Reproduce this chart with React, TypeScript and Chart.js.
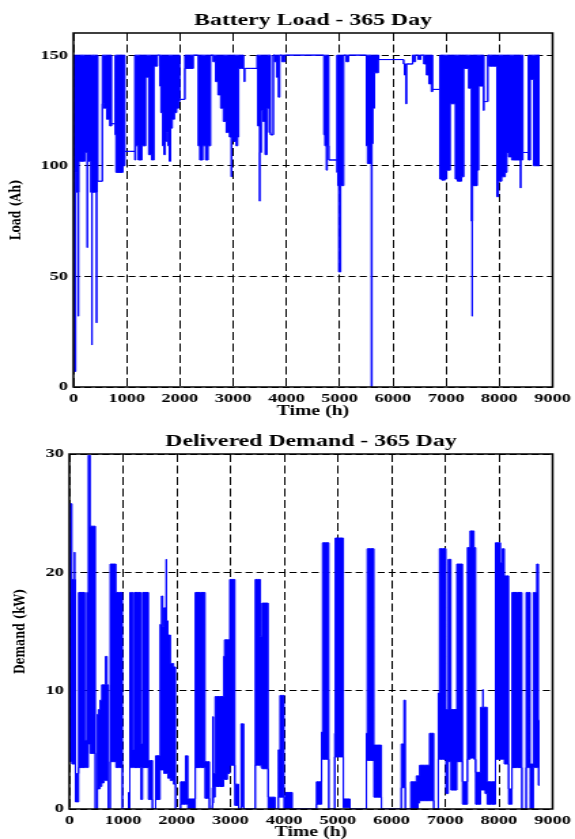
import React, { useEffect, useRef } from 'react';
import { Chart, registerables } from 'chart.js';

Chart.register(...registerables);

const BLUE = 'rgb(0,0,255)';
const SERIF = '"Liberation Serif", "Times New Roman", serif';
const WIDE_SERIF = '"DejaVu Serif", serif';
// the figure is drawn on a narrower canvas and shown stretched to the page width
const CANVAS_W = 423;
const PAGE_W = 575;

// ---- axis ticks ----
const timeTicks = [0, 1000, 2000, 3000, 4000, 5000, 6000, 7000, 8000, 9000];
const loadTicks = [0, 50, 100, 150];
const demandTicks = [0, 10, 20, 30];

// ---- Battery load (Ah): time, upper and lower envelope of the hourly trace ----
const loadTime = [
  0, 6, 14, 40, 46, 60, 64, 90, 94, 98,
  110, 190, 240, 256, 260, 265, 290, 322, 326, 345,
  348, 352, 430, 435, 440, 455, 465, 540, 545, 600,
  650, 715, 720, 780, 785, 811, 925, 935, 965, 970,
  1150, 1155, 1185, 1250, 1325, 1390, 1435, 1500, 1530, 1575,
  1580, 1620, 1625, 1660, 1690, 1710, 1740, 1765, 1790, 1810,
  1840, 1875, 1920, 1960, 1995, 2000, 2090, 2095, 2250, 2255,
  2340, 2345, 2400, 2460, 2500, 2560, 2595, 2650, 2690, 2740,
  2790, 2840, 2900, 2960, 2968, 2975, 3040, 3070, 3100, 3110,
  3195, 3200, 3215, 3225, 3450, 3455, 3465, 3490, 3500, 3505,
  3520, 3540, 3580, 3620, 3650, 3700, 3705, 3750, 3755, 3800,
  3830, 3870, 3880, 3950, 4000, 4700, 4705, 4740, 4760, 4775,
  4795, 4800, 4945, 4950, 4980, 4985, 5018, 5022, 5075, 5080,
  5165, 5170, 5500, 5505, 5540, 5590, 5598, 5606, 5612, 5640,
  5670, 5725, 5730, 5735, 6200, 6205, 6230, 6255, 6265, 6370,
  6375, 6400, 6450, 6500, 6550, 6610, 6650, 6700, 6745, 6750,
  6880, 6885, 6950, 7010, 7015, 7075, 7080, 7170, 7175, 7250,
  7330, 7335, 7420, 7425, 7470, 7475, 7485, 7490, 7495, 7500,
  7560, 7610, 7615, 7700, 7705, 7720, 7780, 7785, 7820, 7950,
  7955, 8010, 8080, 8140, 8145, 8200, 8260, 8390, 8400, 8410,
  8440, 8445, 8540, 8545, 8580, 8585, 8640, 8645, 8760,
];
const loadUpper = [
  150, 150, 150, 150, 150, 150, 150, 150, 150, 150,
  150, 150, 150, 150, 150, 150, 150, 150, 150, 150,
  150, 150, 150, 150, 150, 150, 93, 93, 150, 150,
  150, 150, 119, 119, 150, 150, 150, 150, 150, 106.5,
  106.5, 150, 150, 150, 150, 150, 150, 150, 150, 150,
  150, 150, 150, 150, 150, 150, 150, 150, 150, 150,
  150, 150, 150, 150, 150, 130, 130, 150, 150, 150,
  150, 150, 150, 150, 150, 150, 150, 150, 150, 150,
  150, 150, 150, 150, 150, 150, 150, 150, 150, 150,
  150, 144, 144, 144, 144, 150, 150, 150, 150, 150,
  150, 150, 150, 150, 150, 150, 114, 114, 150, 150,
  150, 150, 150, 150, 150, 150, 150, 150, 150, 150,
  150, 102.6, 102.6, 150, 150, 150, 150, 150, 150, 150,
  150, 150, 150, 150, 150, 150, 150, 150, 150, 150,
  150, 150, 150, 148, 148, 146, 146, 146, 146, 146,
  150, 150, 150, 150, 150, 150, 150, 150, 150, 134.5,
  134.5, 150, 150, 150, 150, 150, 150, 150, 150, 150,
  150, 150, 150, 150, 150, 150, 150, 150, 150, 150,
  150, 150, 150, 150, 150, 129, 129, 150, 150, 150,
  150, 150, 150, 150, 150, 150, 150, 150, 150, 150,
  150, 106, 106, 150, 150, 150, 150, 150, 150,
];
const loadLower = [
  150, 84, 7, 7, 97, 97, 88, 88, 32, 88,
  102, 102, 106, 106, 63, 106, 102, 102, 88, 88,
  19, 88, 88, 29, 88, 93, 93, 93, 128, 126,
  121, 118, 119, 119, 114, 97, 97, 100, 100, 106.5,
  106.5, 102.6, 109, 102.6, 109, 140, 105, 102.6, 145, 145,
  150, 150, 136, 124, 109, 105, 111, 115, 109, 102,
  117, 121, 124, 126, 129, 130, 130, 144, 144, 150,
  150, 109, 102.6, 109, 102.6, 109, 150, 147, 138, 132,
  126, 120, 115, 113, 95, 112, 111, 109, 113, 144,
  144, 144, 138, 144, 144, 150, 118, 118, 84, 106,
  106, 125, 120, 105, 126, 115, 114, 114, 150, 147,
  140, 131, 150, 147, 150, 150, 114, 109, 98, 109,
  109, 102.6, 102.6, 97, 91, 52, 52, 91, 91, 150,
  147, 150, 150, 109, 101, 101, 0, 0, 110, 126,
  142, 142, 150, 148, 148, 146, 141, 128, 146, 146,
  150, 147, 150, 148, 150, 146, 141, 137, 133.5, 134.5,
  134.5, 94, 93.5, 94, 98, 98, 128, 128, 94, 93,
  95, 144, 144, 135, 135, 75, 75, 32, 75, 91,
  91, 98, 136, 136, 125, 129, 129, 150, 145, 145,
  86, 93, 95, 97, 106, 104, 102.6, 102.6, 90, 102.6,
  102.6, 106, 106, 102.6, 102.6, 139, 139, 100, 100,
];

// ---- Delivered demand (kW): time, upper and lower envelope ----
const demandTime = [
  0, 4, 45, 50, 95, 98, 104, 111, 115, 170,
  174, 285, 288, 322, 326, 350, 355, 385, 390, 480,
  488, 520, 524, 557, 588, 619, 668, 680, 700, 705,
  725, 730, 758, 762, 865, 870, 985, 990, 1100, 1103,
  1125, 1128, 1180, 1185, 1207, 1210, 1330, 1335, 1362, 1365,
  1470, 1475, 1545, 1550, 1605, 1610, 1680, 1700, 1733, 1746,
  1777, 1800, 1806, 1812, 1857, 1907, 1975, 1980, 2070, 2074,
  2160, 2167, 2204, 2210, 2340, 2350, 2525, 2530, 2605, 2612,
  2660, 2665, 2678, 2690, 2740, 2864, 2880, 2900, 2985, 2990,
  3080, 3085, 3150, 3155, 3195, 3200, 3245, 3250, 3460, 3465,
  3555, 3560, 3585, 3590, 3700, 3705, 3830, 3835, 3890, 3895,
  3920, 3925, 3995, 4000, 4050, 4150, 4155, 4600, 4605, 4695,
  4700, 4730, 4830, 4835, 4940, 4945, 4960, 5100, 5105, 5225,
  5230, 5530, 5535, 5560, 5670, 5675, 5810, 5815, 6180, 6185,
  6230, 6234, 6255, 6260, 6355, 6360, 6460, 6465, 6520, 6525,
  6705, 6710, 6785, 6790, 6870, 6873, 6892, 6895, 7012, 7015,
  7055, 7058, 7105, 7108, 7215, 7218, 7320, 7323, 7412, 7415,
  7462, 7465, 7535, 7538, 7565, 7568, 7658, 7660, 7700, 7704,
  7708, 7780, 7783, 7935, 7938, 8028, 8030, 8064, 8066, 8100,
  8103, 8180, 8183, 8242, 8245, 8428, 8430, 8506, 8509, 8580,
  8583, 8640, 8644, 8704, 8706, 8735, 8737, 8760,
];
const demandUpper = [
  5, 25.8, 25.8, 19.4, 19.4, 21.7, 19.4, 19.4, 3, 3,
  18.3, 18.3, 5.8, 5.8, 18.3, 18.3, 29.9, 29.9, 23.9, 23.9,
  0, 0, 8, 8.4, 9.2, 10.5, 10.5, 12.9, 12.9, 10.5,
  10.5, 0, 0, 20.7, 20.7, 18.3, 18.3, 0, 0, 1.4,
  1.4, 18.3, 18.3, 5, 5, 18.3, 18.3, 5.5, 5.5, 18.3,
  18.3, 4.1, 4.1, 0, 0, 4.5, 4.5, 15.6, 18, 15.4,
  17, 17, 21.1, 15.9, 14.7, 12.3, 12, 0, 0, 2.3,
  2.3, 4.5, 4.5, 0.85, 0.85, 18.3, 18.3, 4, 4, 0,
  0, 1.8, 7.8, 3, 9.5, 9.5, 12.9, 14.3, 14.3, 19.4,
  19.4, 2.1, 2.1, 0, 0, 7.2, 7.2, 0, 0, 19.4,
  19.4, 14.6, 14.6, 17.4, 17.4, 1, 1, 0, 0, 5,
  5, 9.6, 9.6, 1, 1.4, 1.4, 0, 0, 2.3, 2.3,
  6.5, 22.5, 22.5, 0, 0, 6.4, 22.9, 22.9, 0.85, 0.85,
  0, 0, 6.4, 22, 22, 5.4, 5.4, 0, 0, 5.5,
  5.5, 9.2, 9.2, 0, 0, 2.3, 2.3, 2.8, 2.8, 3.7,
  3.7, 6.4, 6.4, 0, 0, 9.8, 9.8, 22, 22, 8.4,
  8.4, 21.1, 21.1, 8.4, 8.4, 20.7, 20.7, 2.3, 2.3, 22.1,
  22.1, 23.5, 23.5, 22.1, 22.1, 3.1, 3.1, 8.6, 8.6, 10.1,
  8.6, 8.6, 2.3, 2.3, 22.5, 22.5, 20.8, 20.8, 22, 22,
  19.7, 19.7, 1.7, 1.7, 18.3, 18.3, 0, 0, 18.3, 18.3,
  3.8, 3.8, 18.3, 18.3, 20.7, 20.7, 7.5, 7.5,
];
const demandLower = [
  5, 4, 4, 3.8, 3.8, 3.8, 3.8, 3.8, 0.6, 0.6,
  3.5, 3.5, 3.5, 3.5, 3.5, 3.5, 5.5, 5.5, 4.7, 4.7,
  0, 0, 1.7, 1.7, 1.9, 2.2, 2.4, 2.4, 2.4, 2.4,
  2.4, 0, 0, 4, 4, 3.5, 3.5, 0, 0, 0,
  0, 3.5, 3.5, 3.5, 3.5, 3.5, 3.5, 0.8, 0.8, 3.5,
  3.5, 0.8, 0.8, 0, 0, 0.8, 0.8, 3.3, 3.3, 3.3,
  3, 3, 3, 3, 2.6, 2.4, 2.1, 0, 0, 0.4,
  0.4, 0.4, 0.4, 0, 0, 3.5, 3.5, 0.9, 0.9, 0,
  0, 0.3, 0.5, 1, 1.9, 1.9, 2.5, 2.5, 3, 3.7,
  3.7, 0.3, 0.3, 0, 0, 0.2, 0.2, 0, 0, 3.7,
  3.7, 3.7, 3.5, 3.4, 3.4, 0, 0, 0, 0, 1,
  1, 1, 1, 0, 0, 0, 0, 0, 0.4, 0.4,
  4.2, 4.2, 4.2, 0, 0, 4.4, 4.4, 4.4, 0.1, 0.1,
  0, 0, 4.1, 4.1, 4.1, 1, 1, 0, 0, 1.8,
  1.8, 1.8, 1.8, 0, 0, 0, 0, 0, 0.5, 0.7,
  0.7, 0.7, 0.7, 0, 0, 4.2, 4.2, 4.2, 4.2, 1.3,
  1.3, 4, 4, 1.6, 1.6, 4, 4, 0.4, 0.4, 4.2,
  4.2, 4.3, 4.3, 4.2, 4.2, 0.4, 0.4, 1.6, 1.6, 1.6,
  1.6, 1.3, 0.4, 0.4, 4.2, 4.2, 4.2, 4.2, 4.2, 4.2,
  3.8, 3.8, 0.4, 0.4, 3.5, 3.5, 0, 0, 3.5, 3.5,
  0, 0, 3.5, 3.5, 3.5, 3.5, 2, 2,
];

const frameAndTitle = {
  id: 'frameAndTitle',
  afterDraw(chart: any, _args: any, opts: any) {
    const { ctx, chartArea: a } = chart;
    ctx.save();
    ctx.setLineDash([]);
    ctx.strokeStyle = '#000';
    ctx.lineWidth = 1.5;
    ctx.strokeRect(a.left, a.top, a.right - a.left, a.bottom - a.top);
    ctx.fillStyle = '#000';
    ctx.font = `bold 17.5px ${SERIF}`;
    ctx.textAlign = 'center';
    ctx.textBaseline = 'middle';
    ctx.fillText(opts.text, (a.left + a.right) / 2, opts.y);
    ctx.restore();
  },
};

function toPoints(xs: number[], ys: number[]) {
  return xs.map((x, i) => ({ x, y: ys[i] }));
}

interface PanelProps {
  top: number;
  height: number;
  title: string;
  titleY: number;
  yLabel: string;
  yMax: number;
  yTicks: number[];
  times: number[];
  upper: number[];
  lower: number[];
  pad: { top: number; right: number };
  yWidth: number;
  xHeight: number;
  yTitlePad: number;
  xTitlePad: number;
}

function Panel(p: PanelProps) {
  const ref = useRef<HTMLCanvasElement | null>(null);
  useEffect(() => {
    if (!ref.current) return;
    const tickFont = { family: SERIF, size: 13.5, weight: 'bold' as const };
    const chart = new Chart(ref.current, {
      type: 'line',
      data: {
        datasets: [
          {
            data: toPoints(p.times, p.upper),
            borderColor: BLUE,
            backgroundColor: BLUE,
            borderWidth: 1,
            pointRadius: 0,
            stepped: 'middle',
            fill: '+1',
          },
          {
            data: toPoints(p.times, p.lower),
            borderColor: BLUE,
            backgroundColor: BLUE,
            borderWidth: 1,
            pointRadius: 0,
            stepped: 'middle',
            fill: false,
          },
        ],
      },
      options: {
        responsive: false,
        animation: false,
        devicePixelRatio: 1,
        layout: { padding: { top: p.pad.top, right: p.pad.right, left: 0, bottom: 0 } },
        plugins: {
          legend: { display: false },
          tooltip: { enabled: false },
          frameAndTitle: { text: p.title, y: p.titleY },
        } as any,
        scales: {
          x: {
            type: 'linear',
            min: 0,
            max: 9000,
            afterBuildTicks: (s: any) => {
              s.ticks = timeTicks.map((v) => ({ value: v }));
            },
            afterFit: (s: any) => {
              s.height = p.xHeight;
            },
            grid: { color: '#000', lineWidth: 1, drawTicks: false },
            border: { display: false, dash: [8, 3.5] },
            ticks: {
              font: tickFont,
              color: '#000',
              padding: 3,
              maxRotation: 0,
              autoSkip: false,
              callback: (v: any) => String(v),
            },
            title: {
              display: true,
              text: 'Time (h)',
              color: '#000',
              font: { family: SERIF, size: 14.5, weight: 'bold' },
              padding: { top: 0, bottom: p.xTitlePad },
            },
          },
          y: {
            type: 'linear',
            min: 0,
            max: p.yMax,
            afterBuildTicks: (s: any) => {
              s.ticks = p.yTicks.map((v) => ({ value: v }));
            },
            afterFit: (s: any) => {
              s.width = p.yWidth;
            },
            grid: { color: '#000', lineWidth: 1, drawTicks: false },
            border: { display: false, dash: [5.2, 2.9] },
            ticks: {
              font: tickFont,
              color: '#000',
              padding: 4,
              autoSkip: false,
              callback: (v: any) => String(v),
            },
            title: {
              display: true,
              text: p.yLabel,
              color: '#000',
              font: { family: WIDE_SERIF, size: 11, weight: 'bold' },
              padding: { top: p.yTitlePad, bottom: 0 },
            },
          },
        },
      },
      plugins: [frameAndTitle],
    } as any);
    return () => chart.destroy();
  }, []);
  return (
    <canvas
      ref={ref}
      width={CANVAS_W}
      height={p.height}
      style={{
        position: 'absolute',
        left: 0,
        top: p.top,
        width: PAGE_W,
        height: p.height,
        display: 'block',
      }}
    />
  );
}

export default function App() {
  return (
    <div
      style={{
        position: 'absolute',
        left: 0,
        top: 0,
        width: PAGE_W,
        height: 839,
        overflow: 'hidden',
        background: '#fff',
      }}
    >
      <Panel
        top={0}
        height={420}
        title="Battery Load - 365 Day"
        titleY={20}
        yLabel="Load (Ah)"
        yMax={160}
        yTicks={loadTicks}
        times={loadTime}
        upper={loadUpper}
        lower={loadLower}
        pad={{ top: 33, right: 15 }}
        yWidth={54}
        xHeight={33}
        yTitlePad={6}
        xTitlePad={0}
      />
      <Panel
        top={420}
        height={430}
        title="Delivered Demand - 365 Day"
        titleY={21}
        yLabel="Demand (kW)"
        yMax={30}
        yTicks={demandTicks}
        times={demandTime}
        upper={demandUpper}
        lower={demandLower}
        pad={{ top: 34, right: 15 }}
        yWidth={51}
        xHeight={41}
        yTitlePad={9}
        xTitlePad={9}
      />
    </div>
  );
}
